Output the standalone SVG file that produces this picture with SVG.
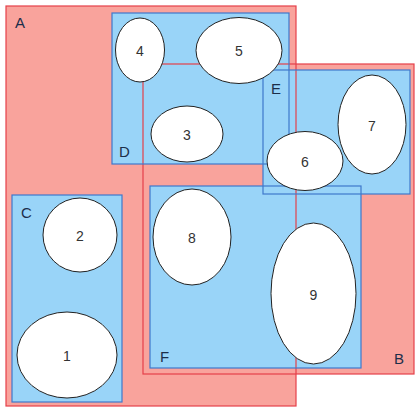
<svg xmlns="http://www.w3.org/2000/svg" xmlns:xlink="http://www.w3.org/1999/xlink" width="416" height="408" viewBox="0 0 416 408">
<style>
.rf{fill:#f9a39c;stroke:none}
.bf{fill:#99d4f8;stroke:none}
.rs{fill:none;stroke:#e5404a;stroke-width:1.2}
.bs{fill:none;stroke:#3f78cc;stroke-width:1.2}
.el{fill:#ffffff;stroke:#222222;stroke-width:1}
.set{font-family:"Liberation Sans",Arial,sans-serif;font-size:15px;fill:#1c2e4a}
.num{font-family:"Liberation Sans",Arial,sans-serif;font-size:14px;fill:#333333;text-anchor:middle;dominant-baseline:central}
</style>
<defs>
<rect id="rA" x="6" y="6" width="290" height="400"/>
<rect id="rB" x="143" y="64" width="271" height="310"/>
<rect id="rC" x="12" y="195" width="110" height="207"/>
<rect id="rD" x="112" y="13" width="177" height="151"/>
<rect id="rE" x="263" y="70" width="147" height="124"/>
<rect id="rF" x="150" y="186" width="211" height="182"/>
</defs>
<g id="A"><use xlink:href="#rA" class="rf"/><text class="set" x="15" y="28">A</text></g>
<g id="B"><use xlink:href="#rB" class="rf"/><text class="set" x="394" y="364">B</text></g>
<g id="C"><use xlink:href="#rC" class="bf"/><text class="set" x="21" y="218">C</text></g>
<g id="D"><use xlink:href="#rD" class="bf"/><text class="set" x="119" y="157">D</text></g>
<g id="E"><use xlink:href="#rE" class="bf"/><text class="set" x="271" y="94">E</text></g>
<g id="F"><use xlink:href="#rF" class="bf"/><text class="set" x="160" y="362">F</text></g>
<g id="borders">
<use xlink:href="#rA" class="rs"/>
<use xlink:href="#rB" class="rs"/>
<use xlink:href="#rC" class="bs"/>
<use xlink:href="#rD" class="bs"/>
<use xlink:href="#rE" class="bs"/>
<use xlink:href="#rF" class="bs"/>
</g>
<g id="connectors"></g>
<g id="n1"><ellipse class="el" cx="67" cy="355" rx="50" ry="43"/><text class="num" x="67" y="356">1</text></g>
<g id="n2"><ellipse class="el" cx="80" cy="235" rx="37" ry="37"/><text class="num" x="80" y="236">2</text></g>
<g id="n3"><ellipse class="el" cx="187" cy="134" rx="36" ry="28"/><text class="num" x="187" y="135">3</text></g>
<g id="n4"><ellipse class="el" cx="140" cy="50" rx="24.5" ry="32"/><text class="num" x="140" y="51">4</text></g>
<g id="n5"><ellipse class="el" cx="239" cy="50.5" rx="43" ry="33"/><text class="num" x="239" y="51">5</text></g>
<g id="n6"><ellipse class="el" cx="305" cy="161" rx="38" ry="29.5"/><text class="num" x="305" y="162">6</text></g>
<g id="n7"><ellipse class="el" cx="372" cy="124.5" rx="34" ry="49.5"/><text class="num" x="372" y="126">7</text></g>
<g id="n8"><ellipse class="el" cx="192" cy="237" rx="39" ry="48"/><text class="num" x="192" y="238">8</text></g>
<g id="n9"><ellipse class="el" cx="313.5" cy="293.5" rx="42.5" ry="70.5"/><text class="num" x="313.5" y="295">9</text></g>
</svg>
